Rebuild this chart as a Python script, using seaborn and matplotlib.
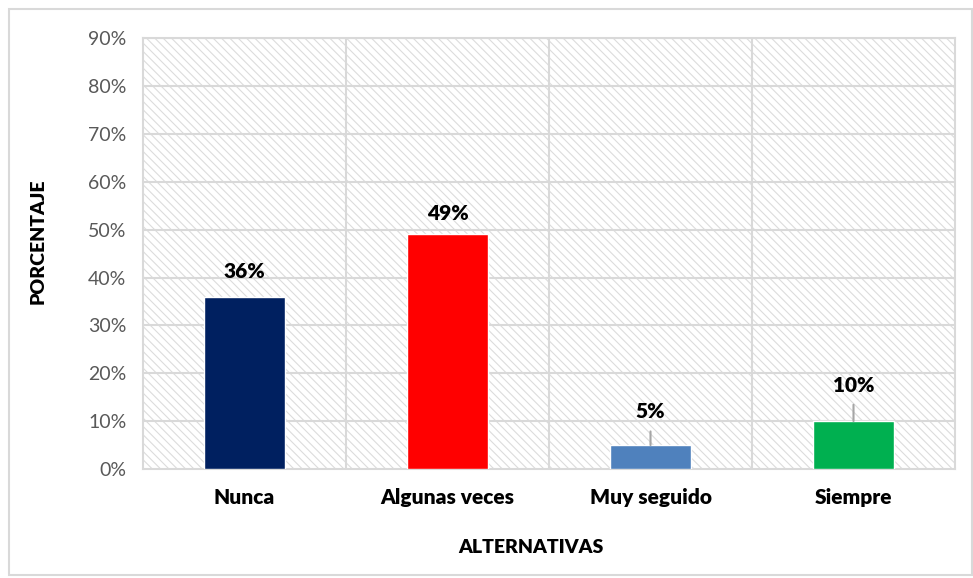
import matplotlib
matplotlib.use("Agg")
import matplotlib.pyplot as plt
import seaborn as sns
import pandas as pd
from matplotlib.patches import Rectangle
from matplotlib.ticker import PercentFormatter

# Datos
categorias = ["Nunca", "Algunas veces", "Muy seguido", "Siempre"]
porcentajes = [0.36, 0.49, 0.05, 0.10]
etiquetas = ["36%", "49%", "5%", "10%"]
colores = ["#002060", "#FF0000", "#4F81BD", "#00B050"]

# separacion de las etiquetas sobre las barras (puntos) y si llevan linea guia
desplaz = [18, 15, 24, 26]
guia = [False, False, True, True]

sns.set_theme(style="white")
plt.rcParams["font.family"] = ["Lato", "DejaVu Sans"]
plt.rcParams["hatch.linewidth"] = 0.8
plt.rcParams["hatch.color"] = "#dcdcdc"

df = pd.DataFrame({"cat": categorias, "pct": porcentajes})

fig = plt.figure(figsize=(9.73, 5.78), dpi=100)
ax = fig.add_axes([0.147, 0.1886, 0.8345, 0.7454])

# fondo rayado del area de trazado
ax.add_patch(Rectangle((0, 0), 1, 1, transform=ax.transAxes, facecolor="white",
                       edgecolor="#dcdcdc", hatch="\\\\\\\\", lw=0, zorder=0))

sns.barplot(data=df, x="cat", y="pct", hue="cat", palette=colores, legend=False,
            width=0.4, saturation=1, ax=ax, zorder=3)

ax.set_ylim(0, 0.9)
ax.set_xlim(-0.5, 3.5)
ax.yaxis.set_major_locator(plt.MultipleLocator(0.1))
ax.yaxis.set_major_formatter(PercentFormatter(1.0, decimals=0))

# rejilla
for y in [i / 10 for i in range(1, 10)]:
    ax.axhline(y, color="#d9d9d9", lw=1.5, zorder=1)
for x in [0.5, 1.5, 2.5]:
    ax.axvline(x, color="#d9d9d9", lw=1.5, zorder=1)
for s in ["top", "right", "left", "bottom"]:
    ax.spines[s].set_color("#d9d9d9")
    ax.spines[s].set_linewidth(1.5)

ax.tick_params(axis="y", labelsize=14, labelcolor="#595959", length=0, pad=12)
ax.tick_params(axis="x", labelsize=15, labelcolor="black", length=0, pad=14)
for lbl in ax.get_xticklabels():
    lbl.set_fontweight("heavy")

# titulos de los ejes
ax.set_xlabel("")
ax.set_ylabel("")
fig.text(0.5457, 0.052, "ALTERNATIVAS", fontsize=14, fontweight="heavy",
         color="black", ha="center", va="center")
fig.text(0.0396, 0.583, "PORCENTAJE", fontsize=14, fontweight="heavy",
         color="black", ha="center", va="center", rotation=90)

# etiquetas de datos
for i, (v, t) in enumerate(zip(porcentajes, etiquetas)):
    props = dict(arrowstyle="-", color="#a6a6a6", lw=1.5, shrinkA=5, shrinkB=0) if guia[i] else None
    ax.annotate(t, xy=(i, v), xytext=(0, desplaz[i]), textcoords="offset points",
                ha="center", va="center", fontsize=15, fontweight="heavy",
                color="black", arrowprops=props, zorder=5)

# marco exterior del grafico
fig.patches.append(Rectangle((0.009, 0.005), 0.99, 0.98, transform=fig.transFigure,
                             fill=False, edgecolor="#d9d9d9", lw=1.5))

fig.savefig("out.png", dpi=100)
